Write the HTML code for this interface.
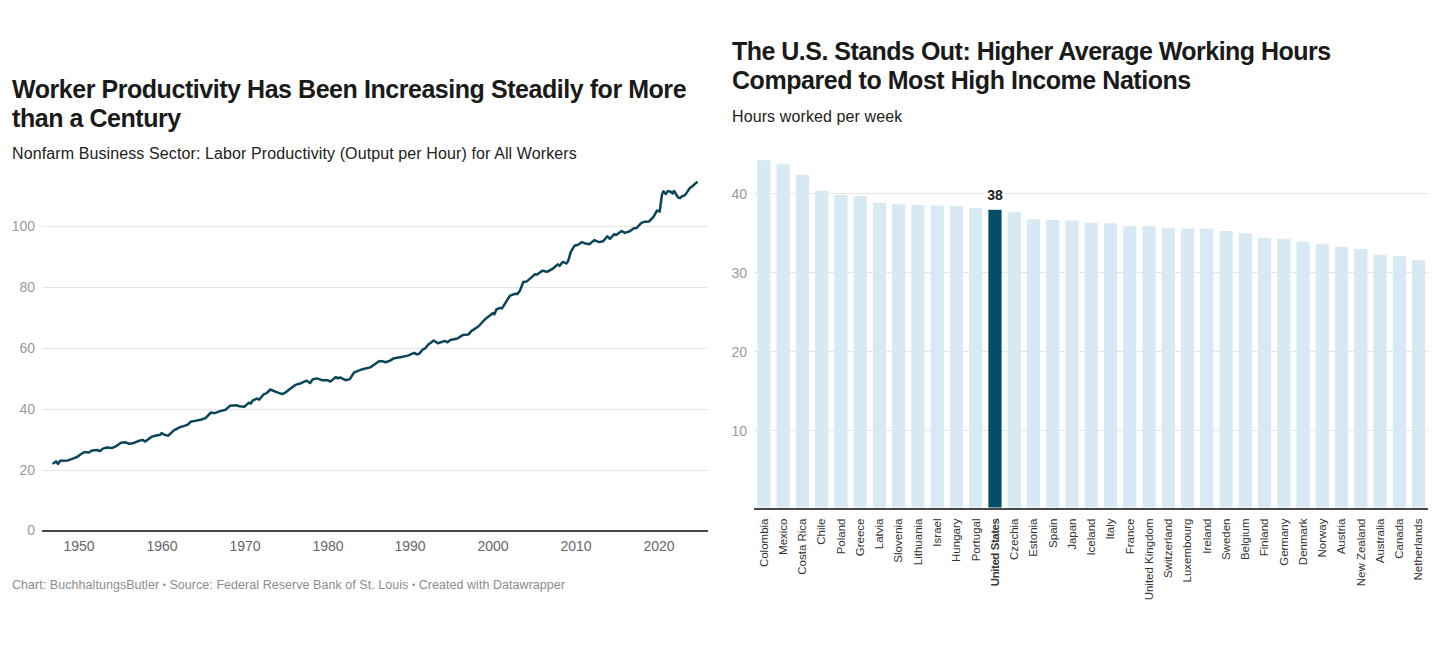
<!DOCTYPE html>
<html><head><meta charset="utf-8">
<style>
html,body{margin:0;padding:0;background:#fff;width:1440px;height:645px;overflow:hidden;position:relative;font-family:"Liberation Sans",sans-serif;}
.t{position:absolute;white-space:nowrap;}
.title{font-weight:bold;font-size:25px;line-height:29px;color:#1a1a1a;letter-spacing:-0.45px;}
.sub{font-size:16px;line-height:20px;color:#222;letter-spacing:0.11px;}
svg{position:absolute;left:0;top:0;}
</style></head><body>
<div class="t title" style="left:12px;top:75px;">Worker Productivity Has Been Increasing Steadily for More<br>than a Century</div>
<div class="t sub" style="left:12px;top:144px;">Nonfarm Business Sector: Labor Productivity (Output per Hour) for All Workers</div>
<div class="t title" style="left:732px;top:37px;"><span style="letter-spacing:-0.52px">The U.S. Stands Out: Higher Average Working Hours</span><br>Compared to Most High Income Nations</div>
<div class="t sub" style="left:732px;top:107px;">Hours worked per week</div>
<svg width="1440" height="645" viewBox="0 0 1440 645" font-family="Liberation Sans, sans-serif">
 <g stroke="#e5e5e5" stroke-width="1">
  <line x1="42" x2="708" y1="226.5" y2="226.5"/>
  <line x1="42" x2="708" y1="287.5" y2="287.5"/>
  <line x1="42" x2="708" y1="348.5" y2="348.5"/>
  <line x1="42" x2="708" y1="409.5" y2="409.5"/>
  <line x1="42" x2="708" y1="470.5" y2="470.5"/>
 </g>
 <g fill="#999" font-size="14" text-anchor="end">
  <text x="35" y="231.0">100</text>
  <text x="35" y="292.0">80</text>
  <text x="35" y="353.0">60</text>
  <text x="35" y="414.0">40</text>
  <text x="35" y="475.0">20</text>
  <text x="35" y="535.0">0</text>
 </g>
 <line x1="42" x2="708" y1="531" y2="531" stroke="#474747" stroke-width="2"/>
 <g fill="#666" font-size="14" text-anchor="middle">
  <text x="79" y="551">1950</text>
  <text x="162" y="551">1960</text>
  <text x="245" y="551">1970</text>
  <text x="328" y="551">1980</text>
  <text x="410" y="551">1990</text>
  <text x="493" y="551">2000</text>
  <text x="576" y="551">2010</text>
  <text x="659" y="551">2020</text>
 </g>
 <path d="M53.5,463.2 L56.0,461.4 L58.1,463.9 L60.2,460.8 L67.9,460.4 L73.5,458.3 L77.0,457.0 L81.8,453.5 L84.6,452.1 L88.8,452.5 L92.3,450.4 L97.2,450.0 L100.0,451.1 L102.8,448.6 L107.0,447.5 L112.5,447.9 L116.7,445.8 L120.9,442.7 L125.1,442.3 L129.3,443.7 L132.7,443.3 L137.6,441.3 L142.5,439.9 L145.3,441.6 L151.6,436.7 L157.2,435.3 L160.0,434.9 L161.6,433.2 L164.1,434.6 L168.3,435.7 L173.9,430.4 L179.5,427.4 L185.0,425.6 L187.8,424.6 L190.6,421.8 L195.0,420.9 L200.6,419.8 L205.5,418.1 L211.0,412.5 L214.5,413.2 L220.1,411.1 L225.7,409.7 L229.9,405.8 L236.1,405.3 L239.6,406.2 L244.5,406.7 L248.7,402.8 L250.8,403.5 L252.9,400.3 L257.1,398.6 L259.2,399.7 L263.3,394.7 L266.8,393.0 L270.3,389.5 L275.9,391.9 L282.2,394.1 L285.7,392.3 L291.2,388.1 L295.4,384.9 L301.0,383.2 L306.6,380.7 L310.1,383.0 L312.8,379.3 L317.0,378.4 L321.9,380.2 L327.5,380.2 L330.3,381.6 L335.9,377.0 L338.0,378.4 L340.0,377.4 L345.6,380.2 L349.8,379.1 L354.2,372.3 L362.6,369.2 L370.2,367.4 L378.6,361.4 L382.1,361.1 L385.6,362.2 L389.7,360.9 L393.2,358.6 L400.2,357.2 L407.9,355.6 L414.2,352.8 L416.9,354.4 L419.0,353.9 L422.5,349.7 L425.3,348.3 L428.1,344.7 L433.7,340.5 L437.9,343.3 L444.8,340.9 L447.6,342.3 L450.4,339.9 L457.4,338.5 L463.0,334.9 L468.5,334.4 L471.3,331.1 L478.3,326.5 L485.3,319.0 L490.9,314.8 L493.0,313.0 L494.4,314.4 L496.4,309.5 L499.9,307.9 L502.0,308.4 L504.8,303.9 L510.0,295.6 L515.5,293.8 L517.4,294.1 L519.9,290.7 L523.3,282.0 L526.7,281.4 L529.8,278.9 L534.8,274.3 L537.2,274.5 L542.2,270.8 L547.1,271.8 L553.3,268.3 L557.7,264.4 L559.5,265.9 L562.6,261.9 L566.4,263.4 L568.2,260.9 L570.7,252.2 L574.4,245.8 L578.1,244.8 L581.9,242.1 L585.6,243.6 L589.3,244.2 L594.3,240.1 L599.2,242.1 L603.1,241.2 L607.4,236.3 L609.9,238.8 L614.3,234.2 L616.1,235.0 L621.7,231.0 L624.8,232.9 L629.8,231.3 L633.5,228.5 L636.6,228.0 L640.9,223.3 L643.4,222.0 L649.0,221.4 L653.3,217.1 L657.0,210.6 L659.7,211.5 L662.0,194.5 L663.5,191.3 L665.7,194.1 L667.9,191.0 L670.7,191.7 L672.5,193.5 L674.1,191.0 L678.1,197.5 L680.0,198.2 L682.4,196.0 L684.9,195.4 L689.9,187.9 L692.4,186.3 L696.7,182.4" fill="none" stroke="#0a4659" stroke-width="2.5" stroke-linejoin="round" stroke-linecap="round"/>
 <text x="12" y="589" font-size="12.5" fill="#8c8c8c" letter-spacing="0.05">Chart: BuchhaltungsButler <tspan font-size="9" dy="-1.5">•</tspan><tspan dy="1.5"> Source: Federal Reserve Bank of St. Louis </tspan><tspan font-size="9" dy="-1.5">•</tspan><tspan dy="1.5"> Created with Datawrapper</tspan></text>

 <g stroke="#e5e5e5" stroke-width="1">
  <line x1="754" x2="1428" y1="193.5" y2="193.5"/>
  <line x1="754" x2="1428" y1="272.5" y2="272.5"/>
  <line x1="754" x2="1428" y1="351.5" y2="351.5"/>
  <line x1="754" x2="1428" y1="430.5" y2="430.5"/>
 </g>
 <g fill="#999" font-size="14" text-anchor="end">
  <text x="747" y="198.5">40</text>
  <text x="747" y="277.5">30</text>
  <text x="747" y="356.5">20</text>
  <text x="747" y="435.5">10</text>
 </g>
 <rect x="757.30" y="160.2" width="13.2" height="347.3" fill="#d7e9f2"/><rect x="776.56" y="164.3" width="13.2" height="343.2" fill="#d7e9f2"/><rect x="795.81" y="174.6" width="13.2" height="332.9" fill="#d7e9f2"/><rect x="815.07" y="190.7" width="13.2" height="316.8" fill="#d7e9f2"/><rect x="834.32" y="194.9" width="13.2" height="312.6" fill="#d7e9f2"/><rect x="853.58" y="196.1" width="13.2" height="311.4" fill="#d7e9f2"/><rect x="872.84" y="202.8" width="13.2" height="304.7" fill="#d7e9f2"/><rect x="892.09" y="204.2" width="13.2" height="303.3" fill="#d7e9f2"/><rect x="911.35" y="205.0" width="13.2" height="302.5" fill="#d7e9f2"/><rect x="930.60" y="205.6" width="13.2" height="301.9" fill="#d7e9f2"/><rect x="949.86" y="206.1" width="13.2" height="301.4" fill="#d7e9f2"/><rect x="969.12" y="208.0" width="13.2" height="299.5" fill="#d7e9f2"/><rect x="988.37" y="209.8" width="13.2" height="297.7" fill="#064d67"/><rect x="1007.63" y="212.2" width="13.2" height="295.3" fill="#d7e9f2"/><rect x="1026.88" y="219.2" width="13.2" height="288.3" fill="#d7e9f2"/><rect x="1046.14" y="220.0" width="13.2" height="287.5" fill="#d7e9f2"/><rect x="1065.40" y="220.6" width="13.2" height="286.9" fill="#d7e9f2"/><rect x="1084.65" y="222.8" width="13.2" height="284.7" fill="#d7e9f2"/><rect x="1103.91" y="223.3" width="13.2" height="284.2" fill="#d7e9f2"/><rect x="1123.16" y="226.1" width="13.2" height="281.4" fill="#d7e9f2"/><rect x="1142.42" y="226.1" width="13.2" height="281.4" fill="#d7e9f2"/><rect x="1161.68" y="228.2" width="13.2" height="279.3" fill="#d7e9f2"/><rect x="1180.93" y="228.6" width="13.2" height="278.9" fill="#d7e9f2"/><rect x="1200.19" y="228.6" width="13.2" height="278.9" fill="#d7e9f2"/><rect x="1219.44" y="231.1" width="13.2" height="276.4" fill="#d7e9f2"/><rect x="1238.70" y="233.3" width="13.2" height="274.2" fill="#d7e9f2"/><rect x="1257.96" y="238.1" width="13.2" height="269.4" fill="#d7e9f2"/><rect x="1277.21" y="238.9" width="13.2" height="268.6" fill="#d7e9f2"/><rect x="1296.47" y="241.7" width="13.2" height="265.8" fill="#d7e9f2"/><rect x="1315.72" y="243.8" width="13.2" height="263.7" fill="#d7e9f2"/><rect x="1334.98" y="246.7" width="13.2" height="260.8" fill="#d7e9f2"/><rect x="1354.24" y="249.0" width="13.2" height="258.5" fill="#d7e9f2"/><rect x="1373.49" y="254.8" width="13.2" height="252.7" fill="#d7e9f2"/><rect x="1392.75" y="256.1" width="13.2" height="251.4" fill="#d7e9f2"/><rect x="1412.00" y="260.3" width="13.2" height="247.2" fill="#d7e9f2"/>
 <rect x="984" y="184" width="22" height="18" fill="#fff"/>
 <text x="995" y="200" font-size="14" font-weight="bold" fill="#1d1d1d" text-anchor="middle">38</text>
 <line x1="754" x2="1428" y1="509" y2="509" stroke="#474747" stroke-width="2"/>
 <g fill="#333" font-size="11.5">
 <text transform="translate(767.70,518.5) rotate(-90)" text-anchor="end">Colombia</text><text transform="translate(786.96,518.5) rotate(-90)" text-anchor="end">Mexico</text><text transform="translate(806.21,518.5) rotate(-90)" text-anchor="end">Costa Rica</text><text transform="translate(825.47,518.5) rotate(-90)" text-anchor="end">Chile</text><text transform="translate(844.72,518.5) rotate(-90)" text-anchor="end">Poland</text><text transform="translate(863.98,518.5) rotate(-90)" text-anchor="end">Greece</text><text transform="translate(883.24,518.5) rotate(-90)" text-anchor="end">Latvia</text><text transform="translate(902.49,518.5) rotate(-90)" text-anchor="end">Slovenia</text><text transform="translate(921.75,518.5) rotate(-90)" text-anchor="end">Lithuania</text><text transform="translate(941.00,518.5) rotate(-90)" text-anchor="end">Israel</text><text transform="translate(960.26,518.5) rotate(-90)" text-anchor="end">Hungary</text><text transform="translate(979.52,518.5) rotate(-90)" text-anchor="end">Portugal</text><text transform="translate(998.77,518.5) rotate(-90)" text-anchor="end" font-weight="bold" letter-spacing="-0.45">United States</text><text transform="translate(1018.03,518.5) rotate(-90)" text-anchor="end">Czechia</text><text transform="translate(1037.28,518.5) rotate(-90)" text-anchor="end">Estonia</text><text transform="translate(1056.54,518.5) rotate(-90)" text-anchor="end">Spain</text><text transform="translate(1075.80,518.5) rotate(-90)" text-anchor="end">Japan</text><text transform="translate(1095.05,518.5) rotate(-90)" text-anchor="end">Iceland</text><text transform="translate(1114.31,518.5) rotate(-90)" text-anchor="end">Italy</text><text transform="translate(1133.56,518.5) rotate(-90)" text-anchor="end">France</text><text transform="translate(1152.82,518.5) rotate(-90)" text-anchor="end">United Kingdom</text><text transform="translate(1172.08,518.5) rotate(-90)" text-anchor="end">Switzerland</text><text transform="translate(1191.33,518.5) rotate(-90)" text-anchor="end">Luxembourg</text><text transform="translate(1210.59,518.5) rotate(-90)" text-anchor="end">Ireland</text><text transform="translate(1229.84,518.5) rotate(-90)" text-anchor="end">Sweden</text><text transform="translate(1249.10,518.5) rotate(-90)" text-anchor="end">Belgium</text><text transform="translate(1268.36,518.5) rotate(-90)" text-anchor="end">Finland</text><text transform="translate(1287.61,518.5) rotate(-90)" text-anchor="end">Germany</text><text transform="translate(1306.87,518.5) rotate(-90)" text-anchor="end">Denmark</text><text transform="translate(1326.12,518.5) rotate(-90)" text-anchor="end">Norway</text><text transform="translate(1345.38,518.5) rotate(-90)" text-anchor="end">Austria</text><text transform="translate(1364.64,518.5) rotate(-90)" text-anchor="end">New Zealand</text><text transform="translate(1383.89,518.5) rotate(-90)" text-anchor="end">Australia</text><text transform="translate(1403.15,518.5) rotate(-90)" text-anchor="end">Canada</text><text transform="translate(1422.40,518.5) rotate(-90)" text-anchor="end">Netherlands</text>
 </g>
 <text x="732" y="653.5" font-size="12.5" fill="#8c8c8c">Chart: BuchhaltungsButler • Source: OECD • Created with Datawrapper</text>
</svg>
</body></html>
